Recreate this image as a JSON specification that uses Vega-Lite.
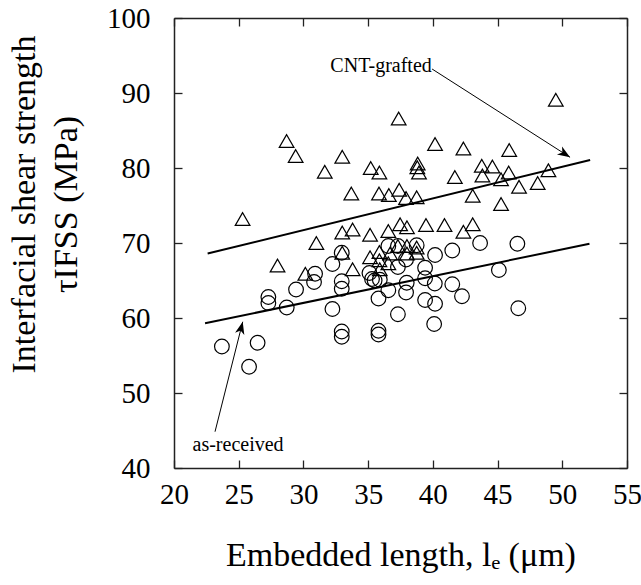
{
  "$schema": "https://vega.github.io/schema/vega-lite/v6.json",
  "width": 453,
  "height": 450,
  "autosize": {"type": "none"},
  "padding": {"left": 174, "top": 18, "right": 14, "bottom": 117},
  "background": "white",
  "config": {
    "view": {"stroke": null},
    "font": "Liberation Serif",
    "axis": {
      "domainColor": "#222",
      "domainWidth": 1.5,
      "tickColor": "#222",
      "tickWidth": 1.3,
      "tickSize": -8,
      "grid": false,
      "labelFont": "Liberation Serif",
      "labelFontSize": 29,
      "labelColor": "black",
      "titleFont": "Liberation Serif",
      "titleFontSize": 34,
      "titleFontWeight": "normal",
      "titleColor": "black"
    }
  },
  "datasets": {
    "points": [
      {"le": 25.3, "tau": 73.2, "group": "CNT-grafted"},
      {"le": 28.0, "tau": 67.0, "group": "CNT-grafted"},
      {"le": 28.7, "tau": 83.6, "group": "CNT-grafted"},
      {"le": 29.4, "tau": 81.6, "group": "CNT-grafted"},
      {"le": 30.15, "tau": 65.9, "group": "CNT-grafted"},
      {"le": 31.0, "tau": 70.0, "group": "CNT-grafted"},
      {"le": 31.65, "tau": 79.5, "group": "CNT-grafted"},
      {"le": 33.0, "tau": 81.5, "group": "CNT-grafted"},
      {"le": 33.7, "tau": 76.6, "group": "CNT-grafted"},
      {"le": 33.0, "tau": 71.4, "group": "CNT-grafted"},
      {"le": 33.8, "tau": 71.8, "group": "CNT-grafted"},
      {"le": 33.0, "tau": 68.7, "group": "CNT-grafted"},
      {"le": 33.8, "tau": 66.5, "group": "CNT-grafted"},
      {"le": 35.2, "tau": 80.0, "group": "CNT-grafted"},
      {"le": 35.87, "tau": 79.4, "group": "CNT-grafted"},
      {"le": 35.84, "tau": 76.6, "group": "CNT-grafted"},
      {"le": 36.6, "tau": 76.4, "group": "CNT-grafted"},
      {"le": 37.4, "tau": 77.1, "group": "CNT-grafted"},
      {"le": 37.93, "tau": 76.0, "group": "CNT-grafted"},
      {"le": 38.75, "tau": 76.1, "group": "CNT-grafted"},
      {"le": 37.36, "tau": 86.6, "group": "CNT-grafted"},
      {"le": 38.83, "tau": 80.6, "group": "CNT-grafted"},
      {"le": 38.8, "tau": 80.1, "group": "CNT-grafted"},
      {"le": 38.93, "tau": 79.4, "group": "CNT-grafted"},
      {"le": 40.17, "tau": 83.2, "group": "CNT-grafted"},
      {"le": 41.7, "tau": 78.8, "group": "CNT-grafted"},
      {"le": 42.36, "tau": 82.6, "group": "CNT-grafted"},
      {"le": 43.78, "tau": 80.3, "group": "CNT-grafted"},
      {"le": 44.6, "tau": 80.2, "group": "CNT-grafted"},
      {"le": 43.83, "tau": 79.0, "group": "CNT-grafted"},
      {"le": 45.86, "tau": 79.4, "group": "CNT-grafted"},
      {"le": 45.27, "tau": 78.5, "group": "CNT-grafted"},
      {"le": 46.66, "tau": 77.5, "group": "CNT-grafted"},
      {"le": 48.1, "tau": 78.0, "group": "CNT-grafted"},
      {"le": 48.93, "tau": 79.7, "group": "CNT-grafted"},
      {"le": 43.08, "tau": 76.3, "group": "CNT-grafted"},
      {"le": 45.27, "tau": 75.2, "group": "CNT-grafted"},
      {"le": 49.5, "tau": 89.1, "group": "CNT-grafted"},
      {"le": 45.9, "tau": 82.4, "group": "CNT-grafted"},
      {"le": 35.15, "tau": 71.1, "group": "CNT-grafted"},
      {"le": 36.56, "tau": 71.6, "group": "CNT-grafted"},
      {"le": 37.47, "tau": 72.5, "group": "CNT-grafted"},
      {"le": 38.0, "tau": 72.1, "group": "CNT-grafted"},
      {"le": 39.47, "tau": 72.4, "group": "CNT-grafted"},
      {"le": 40.9, "tau": 72.4, "group": "CNT-grafted"},
      {"le": 42.36, "tau": 71.5, "group": "CNT-grafted"},
      {"le": 43.08, "tau": 72.5, "group": "CNT-grafted"},
      {"le": 35.87, "tau": 68.8, "group": "CNT-grafted"},
      {"le": 35.15, "tau": 68.1, "group": "CNT-grafted"},
      {"le": 36.7, "tau": 68.6, "group": "CNT-grafted"},
      {"le": 37.3, "tau": 69.6, "group": "CNT-grafted"},
      {"le": 38.0, "tau": 69.6, "group": "CNT-grafted"},
      {"le": 38.75, "tau": 69.4, "group": "CNT-grafted"},
      {"le": 38.75, "tau": 68.7, "group": "CNT-grafted"},
      {"le": 35.87, "tau": 67.7, "group": "CNT-grafted"},
      {"le": 36.56, "tau": 67.3, "group": "CNT-grafted"},
      {"le": 35.9, "tau": 66.5, "group": "CNT-grafted"},
      {"le": 38.0, "tau": 68.6, "group": "CNT-grafted"},
      {"le": 23.7, "tau": 56.2, "group": "as-received"},
      {"le": 25.8, "tau": 53.5, "group": "as-received"},
      {"le": 26.46, "tau": 56.7, "group": "as-received"},
      {"le": 27.29, "tau": 62.8, "group": "as-received"},
      {"le": 27.29, "tau": 62.0, "group": "as-received"},
      {"le": 28.71, "tau": 61.4, "group": "as-received"},
      {"le": 29.43, "tau": 63.8, "group": "as-received"},
      {"le": 30.9, "tau": 65.9, "group": "as-received"},
      {"le": 30.82, "tau": 64.8, "group": "as-received"},
      {"le": 32.24, "tau": 67.2, "group": "as-received"},
      {"le": 32.96, "tau": 68.7, "group": "as-received"},
      {"le": 32.96, "tau": 64.9, "group": "as-received"},
      {"le": 32.96, "tau": 63.9, "group": "as-received"},
      {"le": 32.24, "tau": 61.2, "group": "as-received"},
      {"le": 32.96, "tau": 58.2, "group": "as-received"},
      {"le": 32.96, "tau": 57.5, "group": "as-received"},
      {"le": 35.8, "tau": 58.3, "group": "as-received"},
      {"le": 35.8, "tau": 57.8, "group": "as-received"},
      {"le": 35.8, "tau": 62.6, "group": "as-received"},
      {"le": 36.56, "tau": 63.7, "group": "as-received"},
      {"le": 35.3, "tau": 65.2, "group": "as-received"},
      {"le": 35.5, "tau": 65.0, "group": "as-received"},
      {"le": 35.1, "tau": 66.0, "group": "as-received"},
      {"le": 37.3, "tau": 60.5, "group": "as-received"},
      {"le": 37.98, "tau": 64.7, "group": "as-received"},
      {"le": 37.93, "tau": 63.4, "group": "as-received"},
      {"le": 39.4, "tau": 66.7, "group": "as-received"},
      {"le": 39.4, "tau": 65.3, "group": "as-received"},
      {"le": 39.4, "tau": 62.4, "group": "as-received"},
      {"le": 40.15, "tau": 64.6, "group": "as-received"},
      {"le": 40.17, "tau": 61.9, "group": "as-received"},
      {"le": 40.1, "tau": 59.2, "group": "as-received"},
      {"le": 40.17, "tau": 68.4, "group": "as-received"},
      {"le": 41.5, "tau": 69.0, "group": "as-received"},
      {"le": 41.5, "tau": 64.5, "group": "as-received"},
      {"le": 42.25, "tau": 62.9, "group": "as-received"},
      {"le": 43.65, "tau": 70.0, "group": "as-received"},
      {"le": 46.53, "tau": 69.9, "group": "as-received"},
      {"le": 45.1, "tau": 66.4, "group": "as-received"},
      {"le": 46.6, "tau": 61.3, "group": "as-received"},
      {"le": 36.56, "tau": 69.6, "group": "as-received"},
      {"le": 37.3, "tau": 69.6, "group": "as-received"},
      {"le": 38.75, "tau": 69.7, "group": "as-received"},
      {"le": 37.3, "tau": 66.8, "group": "as-received"},
      {"le": 37.93, "tau": 67.8, "group": "as-received"},
      {"le": 35.9, "tau": 65.1, "group": "as-received"}
    ],
    "fits": [
      {"group": "CNT-grafted", "le": 22.6, "tau": 68.6},
      {"group": "CNT-grafted", "le": 52.15, "tau": 81.07},
      {"group": "as-received", "le": 22.4, "tau": 59.3},
      {"group": "as-received", "le": 52.1, "tau": 69.9}
    ],
    "arrows": [
      {"arrow": "as-received", "le": 23.17, "tau": 44.84},
      {"arrow": "as-received", "le": 25.31, "tau": 59.5},
      {"arrow": "CNT-grafted", "le": 39.94, "tau": 93.2},
      {"arrow": "CNT-grafted", "le": 50.6, "tau": 81.43}
    ],
    "heads": [
      {"arrow": "as-received", "le": 25.31, "tau": 59.5},
      {"arrow": "CNT-grafted", "le": 50.6, "tau": 81.43}
    ],
    "labels": [
      {"text": "as-received", "le": 24.95, "tau": 42.3},
      {"text": "CNT-grafted", "le": 36.0, "tau": 92.8}
    ]
  },
  "layer": [
    {
      "data": {"name": "points"},
      "mark": {"type": "point", "filled": false, "stroke": "black", "strokeWidth": 1.2, "size": 215, "opacity": 1},
      "encoding": {
        "x": {
          "field": "le", "type": "quantitative",
          "scale": {"domain": [20, 55], "nice": false, "zero": false},
          "axis": {
            "orient": "bottom",
            "values": [20, 25, 30, 35, 40, 45, 50, 55],
            "labelPadding": 20,
            "labelFlush": false,
            "labelOverlap": false,
            "title": "Embedded length, lₑ (μm)",
            "titleY": 97,
            "titleBaseline": "alphabetic"
          }
        },
        "y": {
          "field": "tau", "type": "quantitative",
          "scale": {"domain": [40, 100], "nice": false, "zero": false},
          "axis": {
            "orient": "left",
            "values": [40, 50, 60, 70, 80, 90, 100],
            "labelPadding": 32,
            "labelFlush": false,
            "labelOverlap": false,
            "title": ["Interfacial shear strength", "τIFSS (MPa)"],
            "titleLineHeight": 42,
            "titleX": -150,
            "titleY": 186,
            "titleAlign": "center",
            "titleBaseline": "middle"
          }
        },
        "shape": {
          "field": "group", "type": "nominal",
          "scale": {"domain": ["as-received", "CNT-grafted"], "range": ["circle", "triangle-up"]},
          "legend": null
        }
      }
    },
    {
      "data": {"name": "fits"},
      "mark": {"type": "line", "color": "black", "strokeWidth": 2},
      "encoding": {
        "x": {"field": "le", "type": "quantitative", "axis": {"orient": "top", "values": [20, 25, 30, 35, 40, 45, 50, 55], "labels": false, "title": null}},
        "y": {"field": "tau", "type": "quantitative", "axis": {"orient": "right", "values": [40, 50, 60, 70, 80, 90, 100], "labels": false, "title": null}},
        "detail": {"field": "group", "type": "nominal"}
      }
    },
    {
      "data": {"name": "arrows"},
      "mark": {"type": "line", "color": "black", "strokeWidth": 1},
      "encoding": {
        "x": {"field": "le", "type": "quantitative", "axis": null},
        "y": {"field": "tau", "type": "quantitative", "axis": null},
        "detail": {"field": "arrow", "type": "nominal"}
      }
    },
    {
      "data": {"name": "heads"},
      "transform": [{"filter": "datum.arrow === 'as-received'"}],
      "mark": {"type": "point", "shape": "M0,0 L0.55,1.45 L0,1.05 L-0.55,1.45 Z", "filled": true, "color": "black", "size": 300, "opacity": 1, "angle": 14},
      "encoding": {
        "x": {"field": "le", "type": "quantitative", "axis": null},
        "y": {"field": "tau", "type": "quantitative", "axis": null}
      }
    },
    {
      "data": {"name": "heads"},
      "transform": [{"filter": "datum.arrow === 'CNT-grafted'"}],
      "mark": {"type": "point", "shape": "M0,0 L0.55,1.45 L0,1.05 L-0.55,1.45 Z", "filled": true, "color": "black", "size": 300, "opacity": 1, "angle": 122.6},
      "encoding": {
        "x": {"field": "le", "type": "quantitative", "axis": null},
        "y": {"field": "tau", "type": "quantitative", "axis": null}
      }
    },
    {
      "data": {"name": "labels"},
      "mark": {"type": "text", "font": "Liberation Serif", "fontSize": 20, "align": "center", "baseline": "alphabetic", "color": "black"},
      "encoding": {
        "x": {"field": "le", "type": "quantitative", "axis": null},
        "y": {"field": "tau", "type": "quantitative", "axis": null},
        "text": {"field": "text", "type": "nominal"}
      }
    }
  ],
  "resolve": {"axis": {"x": "independent", "y": "independent"}}
}
